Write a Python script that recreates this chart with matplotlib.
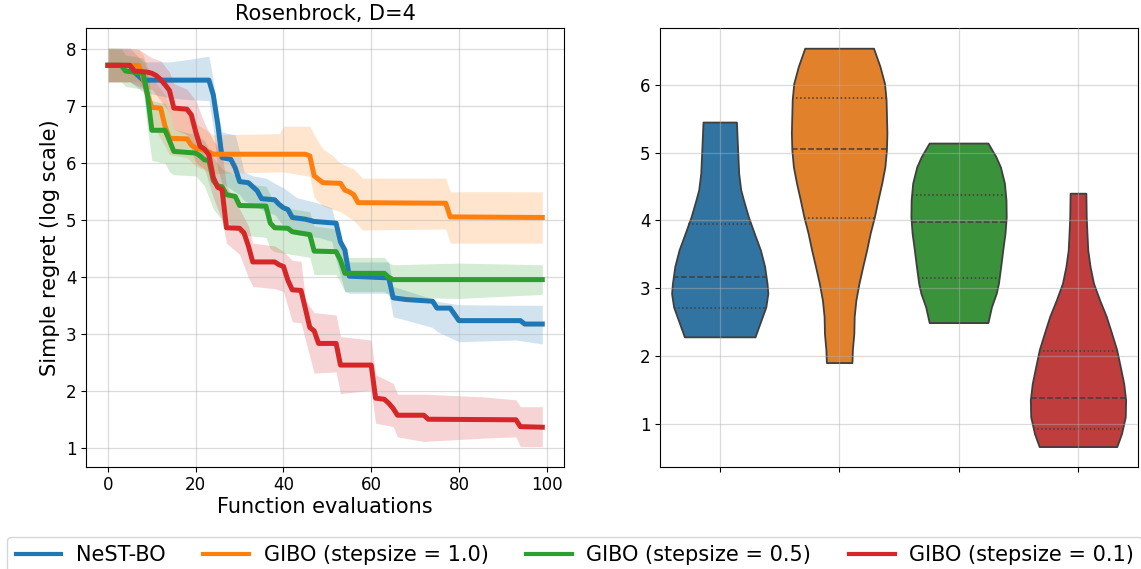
import numpy as np
import matplotlib

matplotlib.use("Agg")
import matplotlib.pyplot as plt
from matplotlib.lines import Line2D

plt.rcParams["font.family"] = ["DejaVu Sans"]

labels = ["NeST-BO", "GIBO (stepsize = 1.0)", "GIBO (stepsize = 0.5)", "GIBO (stepsize = 0.1)"]
colors = ["#1f77b4", "#ff7f0e", "#2ca02c", "#d62728"]
violin_colors = ["#3274a1", "#e1812c", "#3a923a", "#c03d3e"]

# mean curves (log regret), vertices of the best-so-far traces
nest_x = [0, 5, 6, 8, 23, 24, 25, 26, 28, 29, 30, 32, 34, 35, 38, 39, 40, 41, 42, 45,
          47, 52, 53, 54, 55, 64, 65, 68, 74, 75, 78, 79, 80, 94, 95, 99]
nest_y = [7.72, 7.72, 7.60, 7.46, 7.46, 7.20, 6.70, 6.10, 6.07, 5.92, 5.68, 5.66, 5.52, 5.38,
          5.36, 5.28, 5.22, 5.19, 5.05, 5.02, 4.98, 4.95, 4.62, 4.48, 4.02, 3.99, 3.64, 3.61,
          3.58, 3.46, 3.46, 3.35, 3.24, 3.24, 3.18, 3.18]

gibo1_x = [0, 7, 8, 9, 10, 12, 13, 14, 18, 19, 20, 21, 23, 24, 45, 46, 47, 48, 49, 53,
           54, 55, 56, 57, 77, 78, 99]
gibo1_y = [7.72, 7.72, 7.50, 7.20, 6.98, 6.97, 6.65, 6.44, 6.43, 6.32, 6.27, 6.25, 6.20, 6.16,
           6.16, 6.13, 5.78, 5.72, 5.66, 5.65, 5.53, 5.50, 5.45, 5.31, 5.30, 5.06, 5.05]

gibo05_x = [0, 3, 4, 8, 9, 10, 13, 14, 15, 20, 21, 22, 23, 24, 25, 26, 27, 29, 30, 36,
            37, 38, 41, 42, 46, 47, 52, 53, 54, 63, 64, 65, 99]
gibo05_y = [7.72, 7.72, 7.62, 7.58, 7.20, 6.58, 6.58, 6.40, 6.21, 6.18, 6.13, 6.06, 6.05, 5.70,
            5.60, 5.59, 5.45, 5.42, 5.26, 5.25, 4.95, 4.87, 4.86, 4.80, 4.75, 4.46, 4.45, 4.30,
            4.07, 4.07, 4.00, 3.96, 3.96]

gibo01_x = [0, 5, 6, 9, 10, 11, 12, 13, 14, 15, 18, 19, 20, 21, 22, 23, 24, 25, 26, 27,
            30, 31, 32, 33, 38, 39, 40, 41, 42, 44, 45, 46, 47, 48, 52, 53, 60, 61, 63, 64,
            65, 66, 72, 73, 93, 94, 99]
gibo01_y = [7.72, 7.72, 7.62, 7.60, 7.58, 7.54, 7.47, 7.38, 7.28, 6.97, 6.95, 6.85, 6.55, 6.30,
            6.25, 6.15, 5.75, 5.58, 5.54, 4.87, 4.86, 4.78, 4.55, 4.27, 4.27, 4.22, 4.19, 3.95,
            3.78, 3.77, 3.45, 3.12, 3.06, 2.84, 2.84, 2.46, 2.46, 1.88, 1.86, 1.79, 1.70, 1.58,
            1.58, 1.51, 1.50, 1.38, 1.37]

# confidence bands
nest_band_x = [0, 5, 8, 14, 18, 23, 24, 25, 26, 29, 30, 31, 33, 36, 38, 40, 43, 48, 51, 52,
               54, 55, 64, 65, 74, 75, 80, 93, 99]
nest_lo = [7.43, 7.43, 7.25, 7.15, 7.12, 7.10, 6.60, 5.90, 5.65, 5.50, 5.45, 5.35, 5.27, 5.15,
           5.10, 4.90, 4.75, 4.70, 4.63, 4.30, 3.75, 3.72, 3.72, 3.31, 3.12, 3.05, 2.87, 2.90, 2.83]
nest_hi = [8.02, 8.02, 7.78, 7.78, 7.82, 7.88, 7.45, 6.90, 6.55, 6.50, 6.20, 5.85, 5.78, 5.74,
           5.65, 5.57, 5.40, 5.30, 5.22, 4.90, 4.40, 4.27, 4.27, 3.84, 3.62, 3.58, 3.52, 3.51, 3.51]

gibo1_band_x = [0, 7, 8, 10, 13, 14, 18, 20, 23, 24, 39, 40, 46, 47, 49, 51, 53, 56, 58, 77, 78, 99]
gibo1_lo = [7.43, 7.43, 7.30, 6.70, 6.30, 6.15, 6.10, 5.95, 5.85, 5.82, 5.85, 5.85, 5.77, 5.40,
            5.25, 5.20, 5.15, 5.00, 4.83, 4.85, 4.60, 4.60]
gibo1_hi = [8.02, 8.00, 7.90, 7.50, 7.20, 7.00, 6.95, 6.70, 6.55, 6.50, 6.52, 6.65, 6.65, 6.50,
            6.25, 6.15, 6.00, 5.90, 5.74, 5.74, 5.50, 5.50]

gibo05_band_x = [0, 3, 4, 8, 9, 10, 13, 14, 15, 20, 22, 24, 26, 29, 30, 36, 37, 38, 42, 46,
                 47, 52, 54, 63, 64, 65, 80, 99]
gibo05_lo = [7.43, 7.43, 7.35, 7.30, 6.60, 6.05, 6.00, 5.85, 5.80, 5.78, 5.60, 5.20, 5.00, 4.90,
             4.75, 4.70, 4.50, 4.45, 4.40, 4.35, 4.05, 4.05, 3.75, 3.75, 3.68, 3.65, 3.63, 3.70]
gibo05_hi = [8.02, 8.02, 7.90, 7.85, 7.60, 7.10, 7.05, 6.90, 6.60, 6.50, 6.40, 6.10, 5.90, 5.80,
             5.65, 5.60, 5.45, 5.30, 5.20, 5.15, 4.90, 4.85, 4.35, 4.35, 4.25, 4.22, 4.25, 4.22]

gibo01_band_x = [0, 5, 7, 10, 12, 14, 15, 18, 20, 22, 24, 26, 27, 30, 32, 33, 38, 40, 42, 44,
                 45, 47, 52, 53, 60, 61, 65, 66, 72, 86, 93, 94, 99]
gibo01_lo = [7.43, 7.43, 7.35, 7.30, 7.10, 6.90, 6.60, 6.50, 6.00, 5.90, 5.40, 5.00, 4.60, 4.40,
             4.00, 3.84, 3.80, 3.75, 3.22, 3.20, 2.90, 2.32, 2.34, 1.96, 2.02, 1.44, 1.38, 1.20,
             1.12, 1.18, 1.20, 1.03, 1.03]
gibo01_hi = [8.02, 8.02, 8.00, 7.85, 7.80, 7.60, 7.40, 7.30, 7.10, 6.70, 6.40, 6.20, 5.60, 5.20,
             4.90, 4.60, 4.55, 4.45, 4.30, 4.28, 3.60, 3.38, 3.34, 2.96, 2.90, 2.29, 2.14, 1.95,
             1.95, 1.90, 1.85, 1.73, 1.73]

# final regret distributions: density profile (level, half width) and quartiles
nest_vy = [2.28, 2.33, 2.53, 2.72, 2.92, 3.07, 3.32, 3.56, 3.81, 4.05, 4.30, 4.45, 4.69, 5.04, 5.45]
nest_vw = [0.296, 0.306, 0.347, 0.386, 0.403, 0.396, 0.376, 0.341, 0.289, 0.240, 0.199, 0.176,
           0.159, 0.150, 0.140]
nest_q = [2.71, 3.17, 3.94]

gibo1_vy = [1.90, 2.09, 2.33, 2.58, 2.82, 3.07, 3.32, 3.56, 3.81, 4.05, 4.30, 4.55, 4.79, 5.04,
            5.29, 5.78, 6.02, 6.27, 6.54]
gibo1_vw = [0.107, 0.111, 0.123, 0.126, 0.140, 0.166, 0.198, 0.230, 0.260, 0.295, 0.325, 0.357,
            0.383, 0.396, 0.400, 0.393, 0.380, 0.342, 0.288]
gibo1_q = [4.03, 5.05, 5.81]

gibo05_vy = [2.49, 2.72, 2.92, 3.07, 3.32, 3.56, 3.81, 4.05, 4.30, 4.55, 4.79, 4.94, 5.14]
gibo05_vw = [0.246, 0.275, 0.315, 0.334, 0.353, 0.370, 0.389, 0.399, 0.397, 0.384, 0.350, 0.312, 0.246]
gibo05_q = [3.15, 3.97, 4.38]

gibo01_vy = [0.66, 0.85, 1.10, 1.35, 1.59, 1.84, 2.09, 2.33, 2.58, 2.82, 3.07, 3.32, 3.56, 3.81,
             4.05, 4.40]
gibo01_vw = [0.325, 0.364, 0.396, 0.399, 0.383, 0.354, 0.324, 0.282, 0.237, 0.182, 0.130, 0.101,
             0.082, 0.075, 0.069, 0.066]
gibo01_q = [0.92, 1.38, 2.07]

curves = [(nest_x, nest_y), (gibo1_x, gibo1_y), (gibo05_x, gibo05_y), (gibo01_x, gibo01_y)]
bands = [(nest_band_x, nest_lo, nest_hi), (gibo1_band_x, gibo1_lo, gibo1_hi),
         (gibo05_band_x, gibo05_lo, gibo05_hi), (gibo01_band_x, gibo01_lo, gibo01_hi)]
violins = [(nest_vy, nest_vw, nest_q), (gibo1_vy, gibo1_vw, gibo1_q),
           (gibo05_vy, gibo05_vw, gibo05_q), (gibo01_vy, gibo01_vw, gibo01_q)]

W, H = 1141, 569
fig = plt.figure(figsize=(W / 100, H / 100), dpi=100)
ax1 = fig.add_axes([86.3 / W, 1 - 466.5 / H, (564 - 86.3) / W, (466.5 - 28.3) / H])
ax2 = fig.add_axes([660 / W, 1 - 466.5 / H, (1137.7 - 660) / W, (466.5 - 28.3) / H])

grid_kw = dict(color="#b0b0b0", alpha=0.45, linewidth=0.9)

for (bx, lo, hi), (cx, cy), c in zip(bands, curves, colors):
    ax1.fill_between(bx, lo, hi, color=c, alpha=0.2, linewidth=0)
    ax1.plot(cx, cy, color=c, linewidth=3.6)

ax1.set_title("Rosenbrock, D=4", fontsize=15)
ax1.set_xlabel("Function evaluations", fontsize=15, labelpad=2)
ax1.set_ylabel("Simple regret (log scale)", fontsize=15)
ax1.set_xticks([0, 20, 40, 60, 80, 100])
ax1.grid(True, **grid_kw)
ax1.tick_params(labelsize=12)

for i, ((vy, vw, q), c) in enumerate(zip(violins, violin_colors)):
    vy = np.array(vy)
    vw = np.array(vw)
    ax2.fill_betweenx(vy, i - vw, i + vw, facecolor=c, edgecolor="#3f3f3f", linewidth=1.3, zorder=1)
    for k, level in enumerate(q):
        hw = np.interp(level, vy, vw)
        ax2.plot([i - hw, i + hw], [level, level], color="#3f3f3f", linewidth=1.1,
                 linestyle="--" if k == 1 else ":", zorder=2)

ax2.set_xlim(-0.5, 3.5)
ax2.set_xticks(range(4))
ax2.set_xticklabels([])
ax2.set_axisbelow(False)
ax2.grid(True, zorder=3, **grid_kw)
ax2.tick_params(labelsize=12)

handles = [Line2D([], [], color=c, linewidth=3) for c in colors]
fig.legend(handles, labels, loc="upper left", bbox_to_anchor=(7.3 / W, 1 - 536.7 / H),
           ncol=4, fontsize=15, borderaxespad=0, handlelength=2.2, handletextpad=0.7,
           columnspacing=1.8)

fig.savefig("out.png", dpi=100)
